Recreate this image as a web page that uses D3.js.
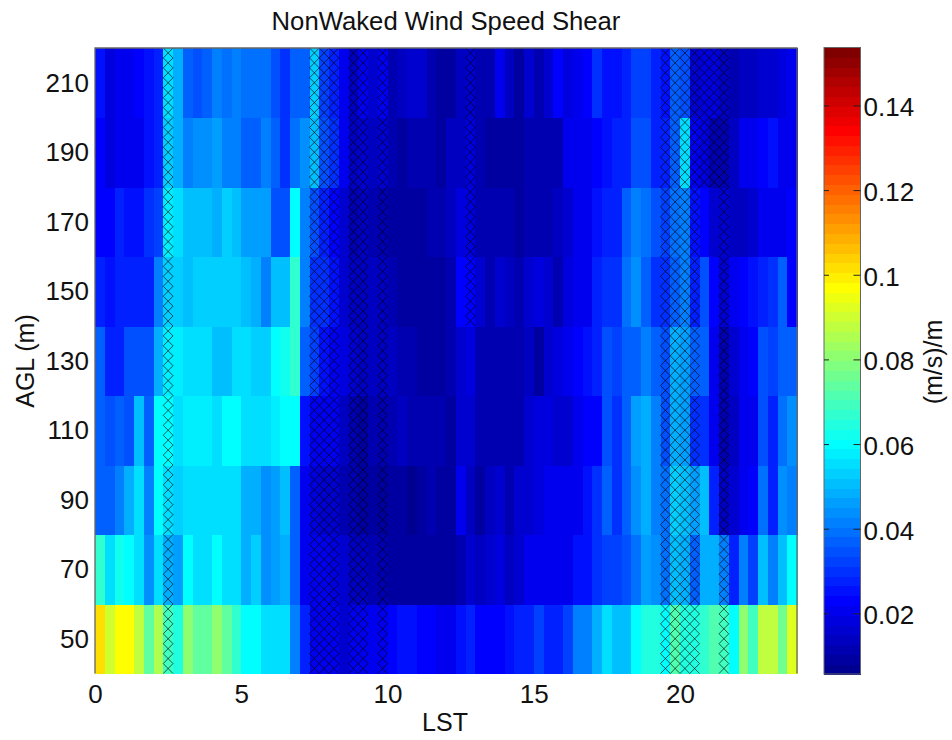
<!DOCTYPE html>
<html>
<head>
<meta charset="utf-8">
<script src="https://cdnjs.cloudflare.com/ajax/libs/d3/7.8.5/d3.min.js"></script>
<style>
  body { margin: 0; background: white; }
  text { font-family: "Liberation Sans", Arial, sans-serif; fill: #111; }
</style>
</head>
<body>
<div id="chart"></div>
<script>
// shear values, one array per height bin, 72 columns of 20 minutes each
const row50 = [.102,.091,.098,.098,.087,.075,.085,.069,.065,.081,.075,.075,.080,.074,.066,.060,.060,.056,.056,.056,.040,.027,.020,.020,.019,.016,.020,.020,.020,.020,.022,.024,.024,.023,.023,.020,.021,.024,.027,.022,.023,.023,.025,.028,.028,.032,.028,.027,.031,.040,.040,.048,.054,.051,.051,.060,.065,.065,.061,.071,.065,.065,.067,.072,.069,.060,.081,.070,.087,.087,.077,.093];
const row70 = [.067,.056,.062,.060,.056,.043,.054,.048,.046,.059,.055,.055,.060,.054,.054,.048,.052,.044,.046,.047,.036,.021,.020,.020,.018,.0145,.013,.012,.0105,.0095,.0085,.0085,.0085,.0085,.0085,.0075,.007,.0105,.016,.013,.016,.018,.012,.016,.019,.021,.021,.021,.020,.024,.024,.029,.031,.031,.034,.039,.046,.044,.039,.050,.049,.036,.048,.048,.042,.026,.040,.031,.050,.040,.050,.060];
const row90 = [.037,.036,.040,.047,.056,.042,.060,.055,.053,.054,.056,.056,.056,.056,.055,.048,.048,.043,.046,.050,.037,.021,.018,.016,.0145,.0105,.0095,.0085,.0075,.0075,.0085,.007,.0065,.0075,.0095,.0085,.0085,.019,.012,.0085,.013,.0145,.0095,.0145,.016,.018,.020,.020,.020,.021,.024,.029,.036,.030,.037,.044,.048,.040,.038,.052,.050,.045,.050,.027,.013,.0145,.021,.022,.038,.026,.044,.041];
const row110 = [.037,.034,.037,.034,.050,.036,.060,.059,.055,.058,.058,.058,.055,.059,.061,.056,.056,.056,.057,.060,.060,.024,.020,.020,.020,.013,.0095,.0085,.0095,.0105,.0105,.012,.0105,.0105,.0095,.0095,.007,.016,.016,.0105,.0105,.0105,.0105,.0105,.016,.018,.018,.0145,.0145,.021,.023,.023,.035,.030,.037,.046,.047,.042,.035,.048,.046,.030,.030,.021,.0105,.012,.021,.021,.034,.027,.038,.044];
const row130 = [.037,.027,.028,.034,.034,.034,.048,.057,.057,.056,.054,.054,.050,.050,.056,.055,.052,.052,.059,.063,.067,.036,.032,.024,.021,.018,.0145,.013,.013,.012,.012,.0105,.0095,.0085,.0075,.0075,.0095,.0145,.018,.0105,.0095,.0105,.0105,.0105,.012,.0085,.016,.018,.020,.022,.024,.027,.033,.031,.037,.037,.042,.036,.034,.048,.045,.037,.037,.020,.0095,.0145,.020,.022,.034,.031,.037,.037];
const row150 = [.028,.024,.027,.027,.027,.026,.040,.052,.052,.050,.052,.052,.052,.052,.052,.050,.048,.042,.050,.050,.067,.040,.030,.029,.024,.016,.013,.013,.013,.012,.0095,.0085,.0085,.0075,.0075,.0075,.0095,.022,.023,.0145,.0105,.0145,.012,.0105,.0145,.018,.016,.0095,.018,.019,.021,.027,.030,.030,.038,.043,.036,.030,.030,.037,.040,.027,.034,.022,.0145,.021,.023,.024,.027,.030,.036,.023];
const row170 = [.023,.022,.026,.025,.024,.029,.031,.057,.054,.050,.050,.050,.047,.052,.050,.046,.046,.046,.034,.034,.060,.040,.035,.028,.022,.0145,.0095,.012,.0105,.0105,.0085,.0075,.0075,.0075,.0095,.0095,.013,.018,.018,.0105,.0095,.0095,.0095,.0085,.0095,.0105,.0105,.013,.016,.019,.021,.025,.027,.026,.037,.040,.039,.034,.032,.038,.040,.024,.022,.016,.0145,.013,.013,.0145,.021,.021,.020,.022];
const row190 = [.022,.018,.019,.019,.021,.024,.026,.052,.048,.040,.044,.044,.046,.040,.040,.037,.037,.040,.037,.030,.039,.043,.050,.033,.029,.020,.012,.016,.013,.016,.0095,.0085,.0095,.0095,.0095,.0075,.013,.013,.018,.0095,.0085,.0085,.0085,.0085,.0095,.0095,.0095,.0105,.020,.020,.021,.022,.024,.026,.028,.034,.033,.027,.028,.037,.056,.020,.018,.0105,.0095,.013,.019,.019,.023,.025,.020,.020];
const row210 = [.024,.018,.019,.019,.0215,.024,.027,.055,.047,.037,.034,.036,.040,.039,.041,.038,.039,.039,.034,.029,.036,.037,.053,.032,.026,.020,.013,.020,.0145,.019,.0105,.013,.016,.0145,.0095,.0085,.0085,.013,.016,.0105,.0105,.020,.012,.0075,.016,.010,.0145,.0215,.018,.019,.0215,.029,.025,.025,.026,.032,.031,.026,.025,.036,.034,.0145,.018,.018,.013,.0105,.012,.013,.0145,.016,.018,.021];

const rowCenters = [50, 70, 90, 110, 130, 150, 170, 190, 210];
const rowValues = [row50, row70, row90, row110, row130, row150, row170, row190, row210];

// columns that carry the cross hatching, per height bin
const hatchLow = [7, 22, 23, 24, 26, 27, 29, 58, 59, 60, 61, 64];
const hatchMid = [7, 22, 23, 24, 26, 27, 29, 38, 58, 59, 60, 61, 64];
const hatchHigh = [7, 22, 23, 24, 26, 27, 29, 38, 58, 59, 60, 61, 62, 63, 64];
const rowHatch = [hatchLow, hatchLow, hatchLow, hatchLow, hatchLow, hatchMid, hatchMid, hatchHigh, hatchHigh];

const xTicks = [0, 5, 10, 15, 20];
const yTicks = [50, 70, 90, 110, 130, 150, 170, 190, 210];
const cTicks = [0.02, 0.04, 0.06, 0.08, 0.1, 0.12, 0.14];

const width = 952;
const height = 740;
const PLOT_LEFT = 95;
const PLOT_RIGHT = 797;
const PLOT_TOP = 48;
const PLOT_BOTTOM = 673.5;
const BAR_LEFT = 824;
const BAR_RIGHT = 860.5;
const BAR_TOP = 47.5;
const BAR_BOTTOM = 674;
const V_MIN = 0.0058;
const V_MAX = 0.1538;
const COL_HOURS = 1 / 3;
const ROW_SPAN = 20;
const HATCH_PER_CELL = 7;
const FRAME_COLOR = "#666";
const LABEL_SIZE = "26px";
const TITLE_SIZE = "25.7px";
const AXIS_TITLE_SIZE = "25px";

const svg = d3.select("#chart").append("svg")
  .attr("width", width)
  .attr("height", height);

const xScale = d3.scaleLinear().domain([0, 24]).range([PLOT_LEFT, PLOT_RIGHT]);
const yScale = d3.scaleLinear().domain([40, 220]).range([PLOT_BOTTOM, PLOT_TOP]);
const cScale = d3.scaleLinear().domain([V_MIN, V_MAX]).range([BAR_BOTTOM, BAR_TOP]);

// matlab jet with 64 steps
const jetIndex = d3.scaleLinear().domain([V_MIN, V_MAX]).range([0, 63]).clamp(true);
const jet = d3.scaleLinear()
  .domain([0, 7, 23, 39, 55, 63])
  .range(["#000090", "#0000ff", "#00ffff", "#ffff00", "#ff0000", "#800000"]);
const colorOf = (v) => jet(Math.round(jetIndex(v)));

// flatten into cells
const cells = [];
rowCenters.forEach((center, r) => {
  rowValues[r].forEach((v, c) => {
    cells.push({ center: center, col: c, value: v, hatched: rowHatch[r].includes(c) });
  });
});

svg.append("g")
  .selectAll("rect")
  .data(cells)
  .enter()
  .append("rect")
  .attr("x", (d) => xScale(d.col * COL_HOURS))
  .attr("y", (d) => yScale(d.center + ROW_SPAN / 2))
  .attr("width", xScale(COL_HOURS) - xScale(0) + 0.5)
  .attr("height", yScale(0) - yScale(ROW_SPAN) + 0.5)
  .attr("fill", (d) => colorOf(d.value))
  .attr("shape-rendering", "crispEdges");

// hatching: a stack of X marks inside each flagged cell
function hatchPath(d) {
  const x0 = xScale(d.col * COL_HOURS);
  const x1 = xScale((d.col + 1) * COL_HOURS);
  const path = d3.path();
  d3.range(HATCH_PER_CELL).forEach((k) => {
    const y0 = yScale(d.center - ROW_SPAN / 2 + (k * ROW_SPAN) / HATCH_PER_CELL);
    const y1 = yScale(d.center - ROW_SPAN / 2 + ((k + 1) * ROW_SPAN) / HATCH_PER_CELL);
    path.moveTo(x0, y0);
    path.lineTo(x1, y1);
    path.moveTo(x0, y1);
    path.lineTo(x1, y0);
  });
  return path.toString();
}

svg.append("g")
  .selectAll("path")
  .data(cells.filter((d) => d.hatched))
  .enter()
  .append("path")
  .attr("d", hatchPath)
  .attr("fill", "none")
  .attr("stroke", "#000")
  .attr("stroke-opacity", 0.7)
  .attr("stroke-width", 0.9);

// plot frame, open at the bottom like the original
svg.append("path")
  .attr("d", d3.line()([
    [xScale(0), yScale(40)],
    [xScale(0), yScale(220)],
    [xScale(24), yScale(220)],
    [xScale(24), yScale(40)],
  ]))
  .attr("fill", "none")
  .attr("stroke", FRAME_COLOR)
  .attr("stroke-width", 1.3);

const xAxis = svg.append("g")
  .attr("transform", `translate(0,${PLOT_BOTTOM})`)
  .call(d3.axisBottom(xScale).tickValues(xTicks).tickSize(0).tickPadding(11));
xAxis.select(".domain").remove();
xAxis.selectAll("text").style("font-size", LABEL_SIZE);

const yAxis = svg.append("g")
  .attr("transform", `translate(${PLOT_LEFT},0)`)
  .call(d3.axisLeft(yScale).tickValues(yTicks).tickSize(0).tickPadding(6));
yAxis.select(".domain").remove();
yAxis.selectAll("text").style("font-size", LABEL_SIZE);

// colorbar
svg.append("g")
  .selectAll("rect")
  .data(d3.range(64))
  .enter()
  .append("rect")
  .attr("x", BAR_LEFT)
  .attr("y", (k) => cScale(V_MIN + ((k + 1) * (V_MAX - V_MIN)) / 64))
  .attr("width", BAR_RIGHT - BAR_LEFT)
  .attr("height", (BAR_BOTTOM - BAR_TOP) / 64 + 0.5)
  .attr("fill", (k) => jet(k))
  .attr("shape-rendering", "crispEdges");

svg.append("rect")
  .attr("x", BAR_LEFT)
  .attr("y", BAR_TOP)
  .attr("width", BAR_RIGHT - BAR_LEFT)
  .attr("height", BAR_BOTTOM - BAR_TOP)
  .attr("fill", "none")
  .attr("stroke", FRAME_COLOR)
  .attr("stroke-width", 1);

const cAxis = svg.append("g")
  .attr("transform", `translate(${BAR_RIGHT},1.5)`)
  .call(d3.axisRight(cScale).tickValues(cTicks).tickFormat((d) => String(d)).tickSize(0).tickPadding(3));
cAxis.select(".domain").remove();
cAxis.selectAll("text").style("font-size", LABEL_SIZE);

svg.append("g")
  .selectAll("path")
  .data(cTicks)
  .enter()
  .append("path")
  .attr("d", (d) => `M${BAR_LEFT},${cScale(d)}h5M${BAR_RIGHT},${cScale(d)}h-7`)
  .attr("stroke", "#222")
  .attr("stroke-width", 1);

// titles
svg.append("text")
  .attr("x", 446)
  .attr("y", 30)
  .attr("text-anchor", "middle")
  .style("font-size", TITLE_SIZE)
  .text("NonWaked Wind Speed Shear");

svg.append("text")
  .attr("x", 445)
  .attr("y", 731)
  .attr("text-anchor", "middle")
  .style("font-size", AXIS_TITLE_SIZE)
  .text("LST");

svg.append("text")
  .attr("transform", "translate(34,361) rotate(-90)")
  .attr("text-anchor", "middle")
  .style("font-size", AXIS_TITLE_SIZE)
  .text("AGL (m)");

svg.append("text")
  .attr("transform", "translate(942,362) rotate(-90)")
  .attr("text-anchor", "middle")
  .style("font-size", AXIS_TITLE_SIZE)
  .text("(m/s)/m");
</script>
</body>
</html>
